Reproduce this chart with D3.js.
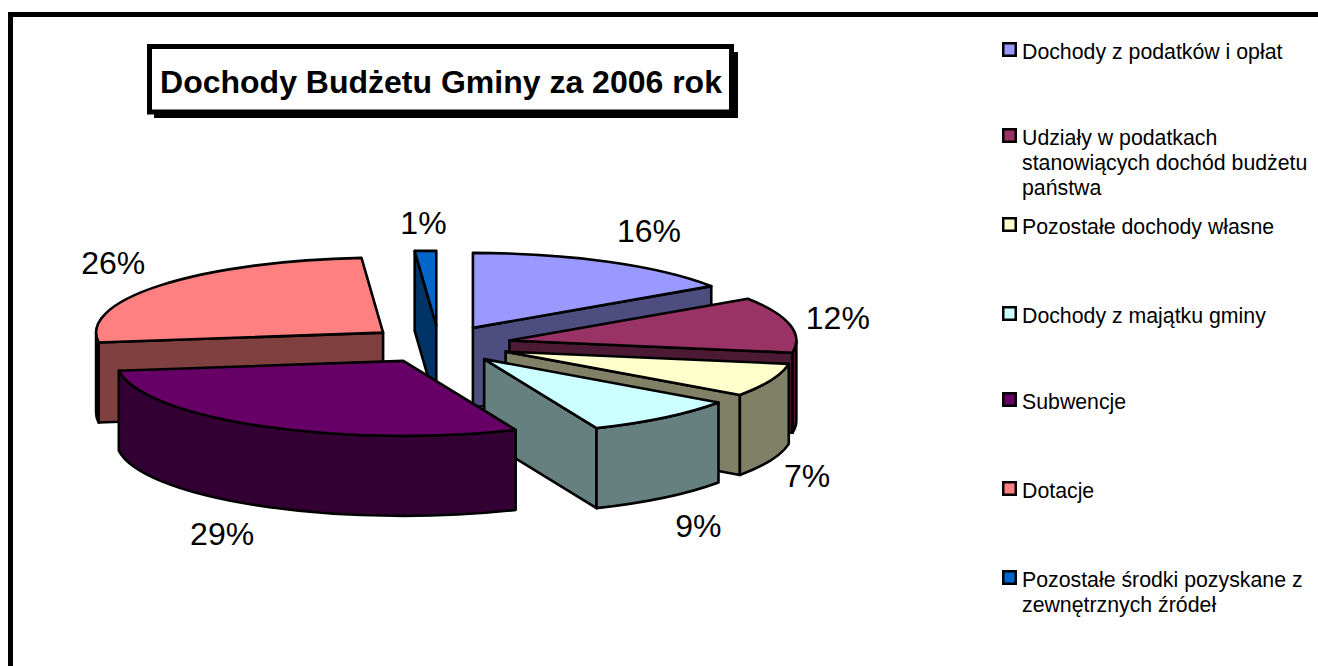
<!DOCTYPE html>
<html>
<head>
<meta charset="utf-8">
<script src="https://cdn.jsdelivr.net/npm/d3@7"></script>
<style>
  html, body { margin: 0; padding: 0; background: #fff; }
  svg { display: block; }
  text { font-family: "Liberation Sans", Arial, sans-serif; fill: #000; }
</style>
</head>
<body>
<script>
// Data
var titleText = 'Dochody Budżetu Gminy za 2006 rok';
var categories = [
  'Dochody z podatków i opłat',
  'Udziały w podatkach stanowiących dochód budżetu państwa',
  'Pozostałe dochody własne',
  'Dochody z majątku gminy',
  'Subwencje',
  'Dotacje',
  'Pozostałe środki pozyskane z zewnętrznych źródeł'
];
var legendLines = [
  ['Dochody z podatków i opłat'],
  ['Udziały w podatkach', 'stanowiących dochód budżetu', 'państwa'],
  ['Pozostałe dochody własne'],
  ['Dochody z majątku gminy'],
  ['Subwencje'],
  ['Dotacje'],
  ['Pozostałe środki pozyskane z', 'zewnętrznych źródeł']
];
var shares = [15.6, 12.0, 7.2, 8.8, 29.3, 25.9, 1.2];
var colors = ['#9999FF', '#993366', '#FFFFCC', '#CCFFFF', '#660066', '#FF8080', '#0066CC'];

// Constants
var w = 1318,
    h = 666,
    cx = 439,
    cy = 344.5,
    rx = 287,
    ry = 75,
    depth = 80,
    explode = 72;

// back to front, so nearer slices cover the farther ones
var drawOrder = [6, 5, 0, 1, 2, 3, 4];
// label shift from the middle of each slice's rim
var labelNudge = [[41, -31], [48, -7], [36, 96], [34, 108], [-39, 108], [-47, -23], [-2, -28]];
// legend row baselines
var legendY = [59, 145, 234, 323, 409, 498, 587];

var svg = d3.select('body').append('svg')
    .attr('width', w)
    .attr('height', h);

// Chart frame, open at the right and the bottom
svg.append('path')
   .attr('d', 'M10.5,' + h + 'V14.5H' + w)
   .attr('fill', 'none')
   .attr('stroke', '#000')
   .attr('stroke-width', 5);

var pie = d3.pie().sort(null).value(function(d) { return d; });
var arcs = pie(shares);

function darker(c) {
  var k = d3.rgb(c);
  return d3.rgb(k.r * 0.5, k.g * 0.5, k.b * 0.5).formatHex();
}

// angle (clockwise from 12 o'clock) to screen offset on the flattened disc
function pt(a, ox, oy, dz) {
  return [ox + rx * Math.sin(a), oy - ry * Math.cos(a) + (dz || 0)];
}

function rimPath(a0, a1, ox, oy, dz, sweep) {
  var p = pt(a1, ox, oy, dz);
  var large = Math.abs(a1 - a0) > Math.PI ? 1 : 0;
  return 'A' + rx + ',' + ry + ' 0 ' + large + ' ' + sweep + ' ' + p[0] + ',' + p[1];
}

var slices = svg.append('g').attr('class', 'slices')
    .attr('stroke', '#000')
    .attr('stroke-width', 2.6)
    .attr('stroke-linejoin', 'round');

drawOrder.forEach(function(i) {
  var d = arcs[i];
  var mid = (d.startAngle + d.endAngle) / 2;
  var ox = cx + explode * Math.sin(mid);
  var oy = cy - explode * (ry / rx) * Math.cos(mid);
  var side = darker(colors[i]);
  var g = slices.append('g');

  // radial walls that face the viewer
  [d.startAngle, d.endAngle].forEach(function(a, n) {
    var visible = n === 0 ? Math.sin(a) < 0 : Math.sin(a) > 0;
    if (!visible) return;
    var p = pt(a, ox, oy);
    g.append('path')
     .attr('d', 'M' + ox + ',' + oy + 'L' + p[0] + ',' + p[1] +
                'V' + (p[1] + depth) + 'L' + ox + ',' + (oy + depth) + 'Z')
     .attr('fill', side);
  });

  // outer wall, only the front half of the disc shows
  var a0 = Math.max(d.startAngle, Math.PI / 2),
      a1 = Math.min(d.endAngle, Math.PI * 1.5);
  if (a1 > a0) {
    var s = pt(a0, ox, oy);
    var e = pt(a1, ox, oy, depth);
    g.append('path')
     .attr('d', 'M' + s[0] + ',' + s[1] + rimPath(a0, a1, ox, oy, 0, 1) +
                'L' + e[0] + ',' + e[1] + rimPath(a1, a0, ox, oy, depth, 0) + 'Z')
     .attr('fill', side);
  }

  // top face
  var t = pt(d.startAngle, ox, oy);
  g.append('path')
   .attr('d', 'M' + ox + ',' + oy + 'L' + t[0] + ',' + t[1] +
              rimPath(d.startAngle, d.endAngle, ox, oy, 0, 1) + 'Z')
   .attr('fill', colors[i]);
});

// Percent labels
svg.append('g').selectAll('text')
   .data(arcs)
   .enter()
   .append('text')
   .attr('x', function(d, i) {
      var mid = (d.startAngle + d.endAngle) / 2;
      var ox = cx + explode * Math.sin(mid);
      return pt(mid, ox, 0)[0] + labelNudge[i][0];
   })
   .attr('y', function(d, i) {
      var mid = (d.startAngle + d.endAngle) / 2;
      var oy = cy - explode * (ry / rx) * Math.cos(mid);
      return pt(mid, 0, oy)[1] + labelNudge[i][1];
   })
   .attr('dy', '0.35em')
   .attr('text-anchor', 'middle')
   .style('font-size', '32px')
   .text(function(d) { return Math.round(d.value) + '%'; });

// Title box with its drop shadow
var title = svg.append('g');
title.append('rect')
   .attr('x', 154).attr('y', 52)
   .attr('width', 584).attr('height', 66)
   .attr('fill', '#000');
title.append('rect')
   .attr('x', 149.5).attr('y', 46.5)
   .attr('width', 582).attr('height', 65.5)
   .attr('fill', '#fff')
   .attr('stroke', '#000')
   .attr('stroke-width', 5);
title.append('text')
   .attr('x', 441).attr('y', 93)
   .attr('text-anchor', 'middle')
   .style('font-size', '32px')
   .style('font-weight', 'bold')
   .text(titleText);

// Legend
var legend = svg.append('g').selectAll('g')
   .data(categories)
   .enter()
   .append('g')
   .attr('transform', function(d, i) { return 'translate(1002,' + legendY[i] + ')'; });

legend.append('rect')
   .attr('x', 1.25).attr('y', -15.75)
   .attr('width', 12.5).attr('height', 12.5)
   .attr('stroke', '#000')
   .attr('stroke-width', 2.5)
   .attr('fill', function(d, i) { return colors[i]; });

legend.append('text')
   .style('font-size', '21.3px')
   .selectAll('tspan')
   .data(function(d, i) { return legendLines[i]; })
   .enter()
   .append('tspan')
   .attr('x', 20)
   .attr('dy', function(d, i) { return i === 0 ? 0 : 25; })
   .text(function(d) { return d; });
</script>
</body>
</html>
